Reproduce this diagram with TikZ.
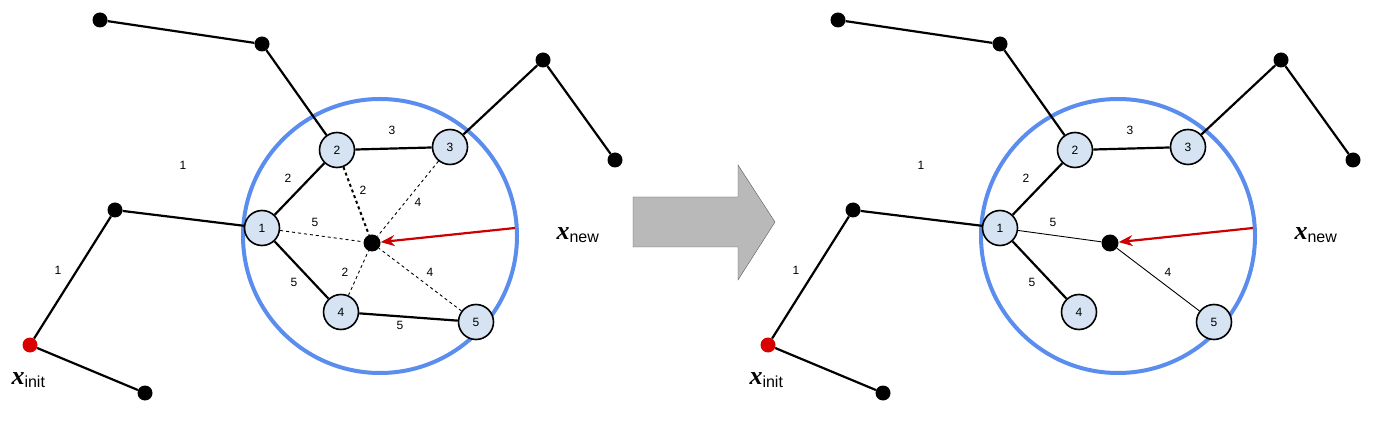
\documentclass[tikz,border=0pt]{standalone}
\usepackage{fontspec}
\setmainfont{Liberation Sans}
\newfontfamily\xfont{Liberation Serif}
\usetikzlibrary{arrows.meta}
\definecolor{ringblue}{HTML}{5B8DEF}
\definecolor{vtxfill}{HTML}{D5E3F2}
\begin{document}
\begin{tikzpicture}[x=1pt,y=-1pt,
  dot/.style={circle,fill=black,inner sep=0pt,minimum size=15pt},
  rdot/.style={dot,fill=red!85!black},
  vtx/.style={circle,draw=black,line width=1.6pt,fill=vtxfill,inner sep=0pt,minimum size=35pt,font=\fontsize{12}{12}\selectfont},
  tree/.style={line width=2.2pt},
  lbl/.style={font=\fontsize{12}{12}\selectfont},
  xlbl/.style={font=\fontsize{26}{26}\selectfont}]
\useasboundingbox (0,0) rectangle (1399,435);
\def\pic#1#2{%
\begin{scope}[xshift=#1]
\draw[ringblue,line width=4pt] (380,236) circle (137);
\node[dot] (a) at (100,20) {};
\node[dot] (b) at (262,44) {};
\node[dot] (c) at (115,210) {};
\node[rdot] (r) at (30,345) {};
\node[dot] (d) at (145,393) {};
\node[dot] (e) at (543,60) {};
\node[dot] (f) at (615,160) {};
\node[dot,minimum size=17pt] (n) at (372,243) {};
\node[vtx] (v1) at (262,228) {1};
\node[vtx] (v2) at (337,150) {2};
\node[vtx] (v3) at (450,147) {3};
\node[vtx] (v4) at (341,312) {4};
\node[vtx] (v5) at (476,322) {5};
\draw[tree] (a) -- (b) -- (v2);
\draw[tree] (d) -- (r) -- (c) -- (v1);
\draw[tree] (f) -- (e) -- (v3);
\draw[tree] (v1) -- (v2) -- (v3);
\draw[tree] (v1) -- (v4);
\node[lbl] at (183,165) {1};
\node[lbl] at (58,270) {1};
\node[lbl] at (288,178) {2};
\node[lbl] at (392,130) {3};
\node[lbl] at (294,282) {5};
\node[lbl] at (315,222) {5};
\coordinate (t) at (515,228);
\draw[red!80!black,line width=2.2pt,-{Stealth[length=14pt,width=11pt]}] (t) -- (n);
\node[xlbl,anchor=west] at (553,235) {{\xfont\bfseries\itshape x}\textsubscript{\fontsize{16}{16}\selectfont new}};
#2
\end{scope}}
\pic{0}{%
  \draw[tree] (v4) -- (v5);
  \draw[dashed,line width=0.9pt] (v1) -- (n) (v3) -- (n) (v4) -- (n) (v5) -- (n);
  \draw[dashed,line width=2pt] (v2) -- (n);
  \node[lbl] at (363,190) {2};
  \node[lbl] at (418,202) {4};
  \node[lbl] at (345,272) {2};
  \node[lbl] at (430,272) {4};
  \node[lbl] at (400,325) {5};
  \node[xlbl,anchor=west] at (8,380) {{\xfont\bfseries\itshape x}\textsubscript{\fontsize{16}{16}\selectfont init}};}
\pic{738}{%
  \draw[line width=0.9pt] (v1) -- (n) -- (v5);
  \node[lbl] at (430,272) {4};
  \node[xlbl,anchor=west] at (8,380) {{\xfont\bfseries\itshape x}\textsubscript{\fontsize{16}{16}\selectfont init}};}
\draw[gray!70!black,fill=gray!55] (633,197) -- (738,197) -- (738,165) -- (775,222) -- (738,280) -- (738,247) -- (633,247) -- cycle;
\end{tikzpicture}
\end{document}
